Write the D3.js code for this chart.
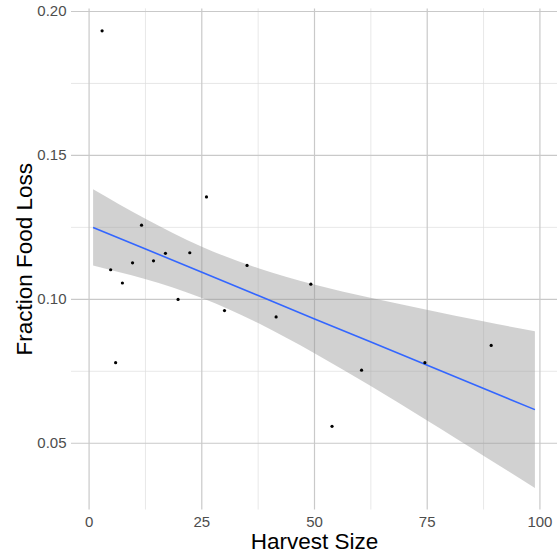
<!DOCTYPE html>
<html>
<head>
<meta charset="utf-8">
<script src="https://cdn.jsdelivr.net/npm/d3@7"></script>
<style>
  html, body { margin: 0; padding: 0; background: #ffffff; }
  svg { display: block; }
</style>
</head>
<body>
<svg id="chart" width="557" height="555"></svg>
<script>
// ---- data ----
const harvestSize = [3.0, 4.9, 6.0, 7.5, 9.75, 11.75, 14.4, 17.05, 19.85, 22.45, 26.15, 30.15, 35.15, 41.6, 49.3, 54.0, 60.55, 74.6, 89.3];
const foodLoss    = [0.1931, 0.1101, 0.0778, 0.1055, 0.1125, 0.1256, 0.1132, 0.1158, 0.0998, 0.1160, 0.1354, 0.0959, 0.1116, 0.0937, 0.1051, 0.0557, 0.0752, 0.0778, 0.0838];

// smoother (linear fit with 95% band) read at several x positions
const smoothX     = [1, 12.5, 25, 37.5, 50, 62.5, 75, 87.5, 99];
const smoothFit   = [0.1248, 0.1174, 0.1093, 0.1012, 0.0931, 0.0851, 0.0770, 0.0689, 0.0615];
const smoothLower = [0.1116, 0.1069, 0.1004, 0.0917, 0.0812, 0.0698, 0.0578, 0.0456, 0.0343];
const smoothUpper = [0.1381, 0.1279, 0.1182, 0.1107, 0.1050, 0.1004, 0.0962, 0.0922, 0.0887];

const xMajor = [0, 25, 50, 75, 100];
const xMinor = [12.5, 37.5, 62.5, 87.5];
const yMajor = [0.05, 0.10, 0.15, 0.20];
const yMinor = [0.075, 0.125, 0.175];
const xLabels = ["0", "25", "50", "75", "100"];
const yLabels = ["0.05", "0.10", "0.15", "0.20"];
const xTitle = "Harvest Size";
const yTitle = "Fraction Food Loss";

// ---- layout ----
const panel = { left: 71, right: 557, top: 8.4, bottom: 509.5 };
const W = panel.right - panel.left, H = panel.bottom - panel.top;

const svg = d3.select("#chart");
const x = d3.scaleLinear().domain([-3.9, 103.9]).range([panel.left, panel.right]);
const y = d3.scaleLinear().domain([0.0268, 0.2009]).range([panel.bottom, panel.top]);

const font = "'Liberation Sans', Arial, Helvetica, sans-serif";

// minor grid
svg.append("g")
  .attr("transform", `translate(0,${panel.bottom})`)
  .call(d3.axisBottom(x).tickValues(xMinor).tickSize(-H).tickFormat(""))
  .call(g => g.select(".domain").remove())
  .call(g => g.selectAll("line").attr("stroke", "#dcdcdc").attr("stroke-width", 0.7));
svg.append("g")
  .attr("transform", `translate(${panel.left},0)`)
  .call(d3.axisLeft(y).tickValues(yMinor).tickSize(-W).tickFormat(""))
  .call(g => g.select(".domain").remove())
  .call(g => g.selectAll("line").attr("stroke", "#dcdcdc").attr("stroke-width", 0.7));

// major grid + labels
svg.append("g")
  .attr("transform", `translate(0,${panel.bottom})`)
  .call(d3.axisBottom(x).tickValues(xMajor).tickSize(-H).tickPadding(6.8)
        .tickFormat((d, i) => xLabels[i]))
  .call(g => g.select(".domain").remove())
  .call(g => g.selectAll("line").attr("stroke", "#c9c9c9").attr("stroke-width", 1.2))
  .call(g => g.selectAll("text").attr("fill", "#4d4d4d").style("font-family", font).style("font-size", "15px"));
svg.append("g")
  .attr("transform", `translate(${panel.left},0)`)
  .call(d3.axisLeft(y).tickValues(yMajor).tickSize(-W).tickPadding(4.5)
        .tickFormat((d, i) => yLabels[i]))
  .call(g => g.select(".domain").remove())
  .call(g => g.selectAll("line").attr("stroke", "#c9c9c9").attr("stroke-width", 1.2))
  .call(g => g.selectAll("text").attr("fill", "#4d4d4d").style("font-family", font).style("font-size", "15px"));

// confidence band
const band = smoothX.map((d, i) => ({ x: d, lo: smoothLower[i], hi: smoothUpper[i], fit: smoothFit[i] }));
svg.append("path")
  .datum(band)
  .attr("fill", "#999999")
  .attr("fill-opacity", 0.45)
  .attr("d", d3.area().curve(d3.curveNatural)
    .x(d => x(d.x)).y0(d => y(d.lo)).y1(d => y(d.hi)));

// fitted line
svg.append("path")
  .datum(band)
  .attr("fill", "none")
  .attr("stroke", "#3366FF")
  .attr("stroke-width", 1.6)
  .attr("d", d3.line().x(d => x(d.x)).y(d => y(d.fit)));

// points
svg.append("g")
  .selectAll("circle")
  .data(harvestSize.map((d, i) => ({ x: d, y: foodLoss[i] })))
  .join("circle")
  .attr("cx", d => x(d.x))
  .attr("cy", d => y(d.y))
  .attr("r", 1.6)
  .attr("fill", "#000000");

// axis titles
svg.append("text")
  .attr("x", (panel.left + panel.right) / 2 + 0.5)
  .attr("y", 548.5)
  .attr("text-anchor", "middle")
  .style("font-family", font)
  .style("font-size", "22.5px")
  .attr("fill", "#000000")
  .text(xTitle);
svg.append("text")
  .attr("transform", `translate(31.5,${259.3}) rotate(-90)`)
  .attr("text-anchor", "middle")
  .style("font-family", font)
  .style("font-size", "22.5px")
  .attr("fill", "#000000")
  .text(yTitle);
</script>
</body>
</html>
